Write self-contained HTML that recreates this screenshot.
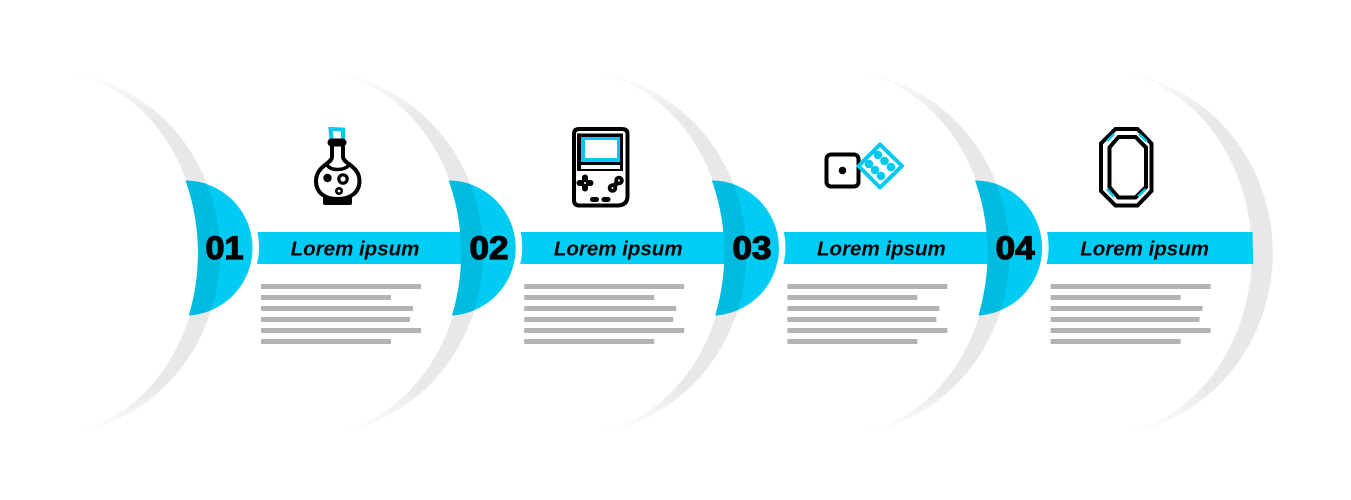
<!DOCTYPE html>
<html>
<head>
<meta charset="utf-8">
<style>
html,body{margin:0;padding:0;background:#fff;width:1351px;height:500px;overflow:hidden}
svg{display:block}
.t{font-family:"Liberation Sans",Arial,sans-serif;font-weight:bold;font-style:italic;font-size:20.5px;fill:#000;text-anchor:middle}
.n{font-family:"Liberation Sans",Arial,sans-serif;font-weight:bold;font-size:32px;fill:#000;stroke:#000;stroke-width:1.2}
</style>
</head>
<body>
<svg width="1351" height="500" viewBox="0 0 1351 500" xmlns="http://www.w3.org/2000/svg">
<defs>
<linearGradient id="fade" x1="0" y1="71" x2="0" y2="435" gradientUnits="userSpaceOnUse">
<stop offset="0" stop-color="#fff"/>
<stop offset="0.13" stop-color="#e8e8e8"/>
<stop offset="0.87" stop-color="#e8e8e8"/>
<stop offset="1" stop-color="#fff"/>
</linearGradient>
<clipPath id="c0"><path d="M0 0H700V500H0Z M198 253A151 182 0 0 0 47 71A151 182 0 0 0 -104 253A151 182 0 0 0 47 435A151 182 0 0 0 198 253Z" clip-rule="evenodd"/></clipPath>
<clipPath id="cc"><circle cx="185" cy="248" r="67.500"/></clipPath>
<g id="cres">
<path d="M47 71A173 182 0 0 1 47 435A152 182 0 0 0 47 71Z" fill="url(#fade)"/>
</g>
<g id="step">
<g clip-path="url(#c0)">
<circle cx="185" cy="248" r="67.500" fill="#00cbf3"/>
<ellipse cx="47" cy="253" rx="173" ry="182" fill="#00bbe0" clip-path="url(#cc)"/>
</g>
<path d="M257 232H463L463.500 264H257A73 73 0 0 0 257.500 232Z" fill="#00cdf6"/>
<g fill="#b3b3b3">
<rect x="261" y="284" width="160" height="5"/>
<rect x="261" y="295" width="130" height="5"/>
<rect x="261" y="306" width="152" height="5"/>
<rect x="261" y="317" width="149" height="5"/>
<rect x="261" y="328" width="160" height="5"/>
<rect x="261" y="339" width="130" height="5"/>
</g>
</g>
</defs>

<use href="#cres"/>
<use href="#cres" x="263.200"/>
<use href="#cres" x="526.400"/>
<use href="#cres" x="789.600"/>
<use href="#cres" x="1052.800"/>

<use href="#step"/>
<use href="#step" x="263.200"/>
<use href="#step" x="526.400"/>
<use href="#step" x="789.600"/>

<text class="n" x="205.500" y="259" textLength="38" lengthAdjust="spacingAndGlyphs">01</text>
<text class="n" x="469.500" y="259" textLength="39" lengthAdjust="spacingAndGlyphs">02</text>
<text class="n" x="732.500" y="259" textLength="39" lengthAdjust="spacingAndGlyphs">03</text>
<text class="n" x="995.600" y="259" textLength="39" lengthAdjust="spacingAndGlyphs">04</text>

<text class="t" x="355" y="255.500">Lorem ipsum</text>
<text class="t" x="618.200" y="255.500">Lorem ipsum</text>
<text class="t" x="881.400" y="255.500">Lorem ipsum</text>
<text class="t" x="1144.600" y="255.500">Lorem ipsum</text>

<!-- flask -->
<path d="M331.500 139L330.500 129L343 129.500L343 139" fill="none" stroke="#00c8ee" stroke-width="4"/>
<g fill="none" stroke="#000" stroke-width="4">
<rect x="328" y="139" width="18" height="7" rx="3.500" fill="#000" stroke-width="1"/>
<path d="M332 146V157C331.500 164 316 166 316 181C316 192 324 199 337.500 199C351 199 359.500 192 359.500 181C359.500 166 343.500 164 343 157V146"/>
<path d="M327 165C331 171 344 171 349 165" stroke-width="3.500"/>
<circle cx="343" cy="179" r="4.200" stroke-width="3.200"/>
<circle cx="339" cy="191" r="2.700" stroke-width="2.600"/>
</g>
<circle cx="327.500" cy="178" r="4.200" fill="#000"/>
<path d="M323 197H352V203Q352 205 350 205H325Q323 205 323 203Z" fill="#000"/>

<!-- game console -->
<path d="M579 129H622Q627.500 129 627.500 134V196Q627.500 205.500 617 205.500H579Q574 205.500 574 200V134Q574 129 579 129Z" fill="none" stroke="#000" stroke-width="4"/>
<rect x="577" y="133.500" width="46" height="37.500" fill="#000"/>
<rect x="581" y="137" width="39" height="25" fill="#00c8ee"/>
<rect x="585" y="140" width="32" height="18" fill="#fff"/>
<rect x="581" y="165" width="39" height="4" fill="#fff"/>
<path d="M585 177.500V188.500M579.500 183H590.500" stroke="#000" stroke-width="6" stroke-linecap="round"/>
<path d="M584 183H586M585 182V184" stroke="#fff" stroke-width="1"/>
<circle cx="612.500" cy="188" r="4.800" fill="#000"/>
<circle cx="619" cy="180.500" r="4.800" fill="#000"/>
<circle cx="612.500" cy="188" r="1" fill="#fff"/>
<circle cx="619" cy="180.500" r="1" fill="#fff"/>
<path d="M613 187L618 182" stroke="#000" stroke-width="5"/>
<rect x="590" y="197" width="9" height="5" rx="2.500" fill="#000"/>
<rect x="601.500" y="197" width="9" height="5" rx="2.500" fill="#000"/>

<!-- dice -->
<rect x="826.500" y="154.500" width="32" height="32" rx="4.500" fill="none" stroke="#000" stroke-width="4"/>
<circle cx="842.500" cy="170.500" r="3.800" fill="#000"/>
<path d="M880 144.500L902 166L880 187.500L858.500 166Z" fill="#fff" stroke="#00c8ee" stroke-width="4" stroke-linejoin="round"/>
<g fill="#00c8ee">
<circle cx="878" cy="155" r="4.300"/><circle cx="884.500" cy="161" r="4.300"/><circle cx="891" cy="167" r="4.300"/>
<circle cx="869" cy="164" r="4.300"/><circle cx="875" cy="170" r="4.300"/><circle cx="881" cy="176" r="4.300"/>
</g>

<!-- frame -->
<path d="M1115.500 129H1137.500L1151.500 143.500V191L1137.500 205.500H1115.500L1101 191V143.500Z" fill="none" stroke="#000" stroke-width="4"/>
<path d="M1118.500 137H1135.500L1146 147.500V187L1135.500 197.500H1118.500L1109.500 187V147.500Z" fill="none" stroke="#000" stroke-width="4"/>
<path d="M1107 141L1114 134M1139 134L1147 141.500M1107 189L1114 196.500M1138 196.500L1146 189" stroke="#00c8ee" stroke-width="2.500"/>
</svg>
</body>
</html>
